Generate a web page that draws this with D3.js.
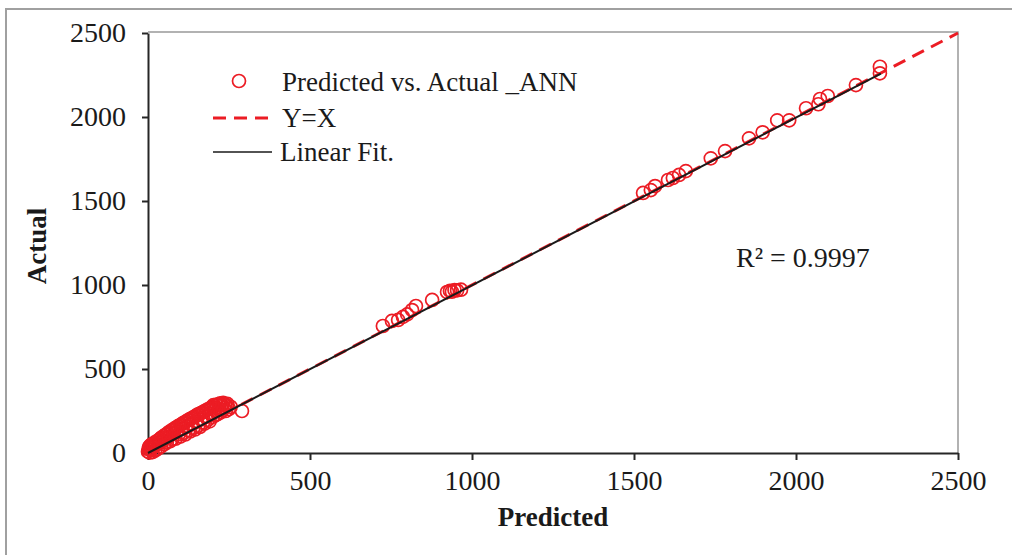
<!DOCTYPE html>
<html>
<head>
<meta charset="utf-8">
<script src="https://cdn.jsdelivr.net/npm/d3@7"></script>
<style>
	body { margin: 0; background: #fff; }
	svg { display: block; font-family: "Liberation Serif", "Times New Roman", serif; }
</style>
</head>
<body>
<svg id="chart" width="1012" height="555"></svg>
<script>
// predicted values (x) of the ANN points
const predicted = [
	0, 2, 3, 5, 6, 8, 10, 12, 14, 15, 18, 20, 22, 25, 27, 30, 32, 35, 38, 40,
	42, 45, 48, 50, 52, 55, 58, 60, 63, 65, 68, 70, 73, 75, 78, 80, 83, 85, 88, 90,
	93, 95, 98, 100, 103, 105, 108, 110, 113, 115, 118, 120, 123, 125, 128, 130, 133, 135, 138, 140,
	143, 145, 148, 150, 153, 155, 158, 160, 163, 165, 168, 170, 173, 175, 178, 180, 183, 185, 188, 190,
	193, 195, 198, 200, 202, 205, 208, 210, 212, 215, 218, 220, 223, 225, 228, 230, 232, 235, 238, 240,
	243, 245, 250, 255, 290,
	725, 753, 772, 787, 800, 815, 827, 877, 923, 932, 938, 946, 954, 966,
	1528, 1552, 1565, 1605, 1620, 1639, 1660,
	1737, 1781, 1855, 1897, 1942, 1979, 2031, 2069, 2074, 2098, 2185, 2259, 2259
];
// actual values (y) of the same points
const actual = [
	8, 22, 35, 2, 42, 18, 50, 28, 5, 55, 40, 62, 15, 48, 70, 25, 75, 58, 85, 38,
	92, 70, 100, 52, 88, 110, 62, 115, 95, 125, 70, 120, 135, 82, 140, 118, 148, 85, 152, 130,
	160, 112, 165, 98, 170, 145, 178, 120, 182, 110, 188, 158, 195, 135, 200, 128, 205, 172, 210, 150,
	215, 140, 222, 185, 228, 162, 232, 155, 238, 200, 242, 182, 248, 175, 252, 215, 258, 198, 262, 188,
	268, 232, 275, 215, 285, 258, 225, 270, 288, 232, 290, 262, 295, 242, 285, 255, 298, 268, 290, 250,
	280, 292, 262, 275, 250,
	756, 786, 792, 810, 825, 851, 875, 911, 958, 965, 960, 970, 968, 972,
	1548, 1565, 1589, 1625, 1637, 1655, 1678,
	1754, 1797, 1873, 1909, 1980, 1980, 2052, 2076, 2107, 2125, 2190, 2299, 2260
];

const axisTicks = [0, 500, 1000, 1500, 2000, 2500];
const legendLabels = ["Predicted vs. Actual _ANN", "Y=X", "Linear Fit."];
const identityLine = [0, 2500];
const fitRange = [0, 2262];
const fitSlope = 0.9985, fitIntercept = 0;
const rSquared = "R\u00B2 = 0.9997";

const red = "#ec1c24";

function whenDocumentLoaded(action) {
	if (document.readyState === "loading") {
		document.addEventListener("DOMContentLoaded", action);
	} else {
		action();
	}
}

whenDocumentLoaded(() => {
	const svg = d3.select("#chart");
	const left = 148, right = 958, top = 33, bottom = 453;

	const x = d3.scaleLinear().domain([0, 2500]).range([left, right]);
	const y = d3.scaleLinear().domain([0, 2500]).range([bottom, top]);

	// outer frame of the figure
	svg.append("rect")
		.attr("x", 6).attr("y", 9)
		.attr("width", 1040).attr("height", 600)
		.attr("fill", "none")
		.attr("stroke", "#a0a0a0")
		.attr("stroke-width", 2);

	// plot area frame (top / right)
	svg.append("path")
		.attr("d", `M${left},${top - 1}H${right}V${bottom}`)
		.attr("fill", "none")
		.attr("stroke", "#999")
		.attr("stroke-width", 1.5);

	const xAxis = svg.append("g")
		.attr("transform", `translate(0,${bottom})`)
		.call(d3.axisBottom(x).tickValues(axisTicks).tickFormat(d3.format("d"))
			.tickSize(7).tickSizeOuter(0).tickPadding(10));
	const yAxis = svg.append("g")
		.attr("transform", `translate(${left},0)`)
		.call(d3.axisLeft(y).tickValues(axisTicks).tickFormat(d3.format("d"))
			.tickSize(6).tickSizeOuter(0).tickPadding(16));

	[xAxis, yAxis].forEach(g => {
		g.selectAll("path.domain").attr("stroke", "#262626").attr("stroke-width", 2);
		g.selectAll(".tick line").attr("stroke", "#262626").attr("stroke-width", 2);
		g.selectAll(".tick text")
			.attr("fill", "#1a1a1a")
			.style("font-family", "Liberation Serif")
			.style("font-size", "28px");
	});

	// axis titles
	svg.append("text")
		.attr("x", (left + right) / 2)
		.attr("y", 526)
		.attr("text-anchor", "middle")
		.style("font-size", "27px")
		.style("font-weight", "bold")
		.attr("fill", "#1a1a1a")
		.text("Predicted");

	svg.append("text")
		.attr("transform", `translate(46,${(top + bottom) / 2 + 3}) rotate(-90)`)
		.attr("text-anchor", "middle")
		.style("font-size", "27px")
		.style("font-weight", "bold")
		.attr("fill", "#1a1a1a")
		.text("Actual");

	// Y = X reference line
	const line = d3.line().x(d => x(d[0])).y(d => y(d[1]));
	svg.append("path")
		.datum(identityLine.map(v => [v, v]))
		.attr("d", line)
		.attr("fill", "none")
		.attr("stroke", red)
		.attr("stroke-width", 3)
		.attr("stroke-dasharray", "13,8");

	// scatter points
	const points = predicted.map((p, i) => [p, actual[i]]);
	svg.append("g")
		.selectAll("circle")
		.data(points)
		.join("circle")
		.attr("cx", d => x(d[0]))
		.attr("cy", d => y(d[1]))
		.attr("r", 6.5)
		.attr("fill", "none")
		.attr("stroke", red)
		.attr("stroke-width", 1.7);

	// linear fit
	svg.append("path")
		.datum(fitRange.map(v => [v, fitSlope * v + fitIntercept]))
		.attr("d", line)
		.attr("fill", "none")
		.attr("stroke", "#1a1a1a")
		.attr("stroke-width", 2);

	// R squared label
	svg.append("text")
		.attr("x", 736)
		.attr("y", 267)
		.style("font-size", "28px")
		.attr("fill", "#1a1a1a")
		.text(rSquared);

	// legend
	const legend = svg.append("g");
	const rows = [82, 118, 152];
	legend.append("circle")
		.attr("cx", 239).attr("cy", rows[0] - 1)
		.attr("r", 6.5)
		.attr("fill", "none")
		.attr("stroke", red)
		.attr("stroke-width", 1.7);
	legend.append("line")
		.attr("x1", 213).attr("x2", 270)
		.attr("y1", rows[1]).attr("y2", rows[1])
		.attr("stroke", red)
		.attr("stroke-width", 3)
		.attr("stroke-dasharray", "13,8");
	legend.append("line")
		.attr("x1", 213).attr("x2", 272)
		.attr("y1", rows[2]).attr("y2", rows[2])
		.attr("stroke", "#1a1a1a")
		.attr("stroke-width", 1.5);
	legend.selectAll("text")
		.data(legendLabels)
		.join("text")
		.attr("x", (d, i) => i == 2 ? 280 : 282)
		.attr("y", (d, i) => rows[i] + 9)
		.style("font-size", "27px")
		.attr("fill", "#1a1a1a")
		.text(d => d);
});
</script>
</body>
</html>
